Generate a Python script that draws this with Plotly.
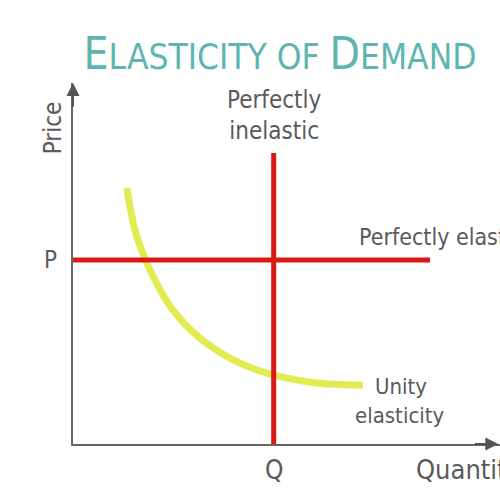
import plotly.graph_objects as go

# ---- data (axis units 0-100) ----
curve_q = [12.6, 14.5, 16.9, 20.4, 23.4, 28.1, 32.8, 37.5, 43.1, 47.1, 57.1, 67.9]
curve_p = [70.9, 59.3, 51.2, 42.7, 37.1, 31.0, 26.6, 23.3, 20.5, 19.1, 16.9, 16.3]
q_level = 47.0          # perfectly inelastic demand (vertical)
p_level = 51.0          # perfectly elastic demand (horizontal)
inelastic_p = [0, 80.6]
elastic_q = [0, 83.6]

x_title = "Quantity"
y_title = "Price"

HAND = "DejaVu Sans Condensed, DejaVu Sans, sans-serif"
GRAY = "#5a5a5a"
RED = "rgb(218,24,22)"
YELLOW = "rgb(226,236,82)"
TEAL = "#5cb6af"

fig = go.Figure()
fig.add_trace(go.Scatter(x=curve_q, y=curve_p, mode="lines",
                         line=dict(color=YELLOW, width=7, shape="spline", smoothing=0.8),
                         hoverinfo="skip", showlegend=False))
fig.add_trace(go.Scatter(x=[q_level, q_level], y=inelastic_p, mode="lines",
                         line=dict(color=RED, width=5), showlegend=False))
fig.add_trace(go.Scatter(x=elastic_q, y=[p_level, p_level], mode="lines",
                         line=dict(color=RED, width=5), showlegend=False))

ann = []
# axis arrows
ann.append(dict(x=0, y=100, xref="x", yref="y", ax=0, ay=25, text="",
                showarrow=True, arrowhead=2, arrowsize=1.3, arrowwidth=2, arrowcolor="#555"))
ann.append(dict(x=99.6, y=0, xref="x", yref="y", ax=-25, ay=0, text="",
                showarrow=True, arrowhead=2, arrowsize=1.3, arrowwidth=2, arrowcolor="#555"))

def txt(x, y, t, size, xanchor="center", angle=0, ref="paper"):
    ann.append(dict(x=x, y=y, xref=ref, yref=ref, text=t, showarrow=False,
                    xanchor=xanchor, yanchor="middle", textangle=angle,
                    font=dict(family=HAND, size=size, color=GRAY)))

# paper coords: x=(px-73)/427, y=(444-py)/361
txt(0.473, 0.91, "Perfectly<br>inelastic", 24)
txt(0.665, 0.573, "Perfectly elastic", 23, xanchor="left")
txt(0.703, 0.16, "Unity", 22, xanchor="left")
txt(0.656, 0.078, "elasticity", 22, xanchor="left")
txt(-0.047, 0.877, y_title, 24, angle=-90)
txt(-0.052, 0.51, "P", 24)
txt(0.471, -0.072, "Q", 26)
txt(0.799, -0.07, x_title, 27, xanchor="left")

fig.update_layout(
    width=500, height=500,
    margin=dict(l=73, r=0, t=83, b=56),
    paper_bgcolor="white", plot_bgcolor="white",
    title=dict(text="<span style='font-size:44px'>E</span>LASTICITY OF <span style='font-size:44px'>D</span>EMAND",
               x=0.56, xanchor="center", y=0.862, yanchor="bottom",
               font=dict(family=HAND, size=35, color=TEAL)),
    xaxis=dict(range=[0, 100], showline=True, linecolor="#666", linewidth=2,
               showgrid=False, zeroline=False, showticklabels=False, ticks=""),
    yaxis=dict(range=[0, 100], showline=True, linecolor="#666", linewidth=2,
               showgrid=False, zeroline=False, showticklabels=False, ticks=""),
    annotations=ann,
    showlegend=False,
)
fig.write_html("out.html", config={"displayModeBar": False},
               post_script="document.body.style.margin='0';")
